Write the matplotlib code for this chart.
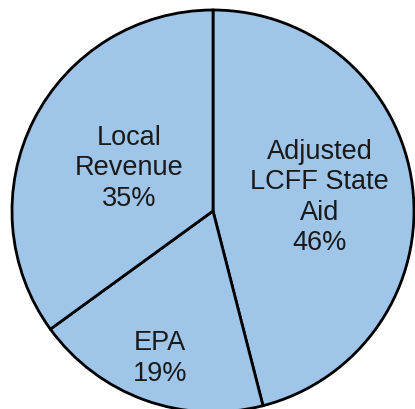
import numpy as np
import matplotlib
matplotlib.use("Agg")
import matplotlib.pyplot as plt

categories = ["Adjusted\nLCFF State\nAid", "EPA", "Local\nRevenue"]
values = [46, 19, 35]
label_dist = [0.535, 0.78, 0.47]

fig = plt.figure(figsize=(4.15, 4.09), dpi=100)
W, H = 415, 409
cx, cy, r = 213, 211, 201
ax = fig.add_axes([(cx - r) / W, (H - cy - r) / H, 2 * r / W, 2 * r / H])
ax.axis("off")

wedges, _ = ax.pie(values, startangle=90, counterclock=False, radius=1,
                   colors=["#9fc5e8"] * 3,
                   wedgeprops=dict(edgecolor="black", linewidth=2.0))
ax.set_xlim(-1, 1)
ax.set_ylim(-1, 1)
ax.set_aspect("auto")

for w, cat, v, d in zip(wedges, categories, values, label_dist):
    th = np.deg2rad((w.theta1 + w.theta2) / 2)
    ax.text(d * np.cos(th), d * np.sin(th), f"{cat}\n{v}%",
            ha="center", va="center", fontsize=19.5, family="Liberation Sans",
            color="#1a1a1a", linespacing=1.22)

fig.savefig("out.png", dpi=100)
